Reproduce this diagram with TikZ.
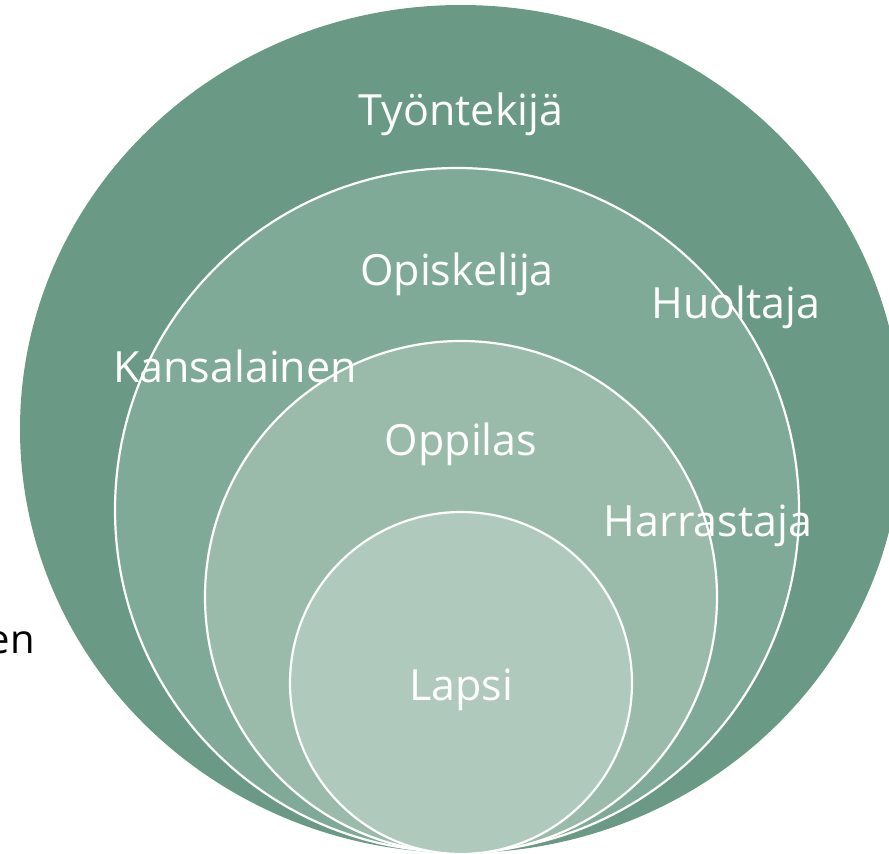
\documentclass[tikz,border=0pt]{standalone}
\usepackage{fontspec}
\setmainfont{Open Sans}
\definecolor{c1}{HTML}{6A9A85}
\definecolor{c2}{HTML}{7FAA97}
\definecolor{c3}{HTML}{9ABBAA}
\definecolor{c4}{HTML}{AFC9BD}
\tikzset{
  ring/.style={draw=white, line width=2.2pt},
  lbl/.style={text=white, font=\fontsize{43}{46}\selectfont, inner sep=0pt},
  side/.style={text=black, font=\fontsize{40}{44}\selectfont, inner sep=0pt}
}
\begin{document}
\begin{tikzpicture}[x=1pt,y=-1pt]
\useasboundingbox (0,0) rectangle (889,854);
\fill[c1] (461,429) ellipse [x radius=441, y radius=424];
\path[ring, fill=c2] (457,510) circle [radius=342];
\path[ring, fill=c3] (461,597) circle [radius=256];
\path[ring, fill=c4] (461,683) circle [radius=171];
\node[lbl] (t1) at (461,114) {Työntekijä};
\node[lbl] (t2) at (457,274) {Opiskelija};
\node[lbl] (t3) at (736,307) {Huoltaja};
\node[lbl] (t4) at (235,366) {Kansalainen};
\node[lbl] (t5) at (461,444) {Oppilas};
\node[lbl] (t6) at (708,526) {Harrastaja};
\node[lbl] (t7) at (461,690) {Lapsi};
\node[side, anchor=base east] (s1) at (35,653) {en};
\node[side, anchor=base east] (s2) at (2,708) {n};
\end{tikzpicture}
\end{document}
